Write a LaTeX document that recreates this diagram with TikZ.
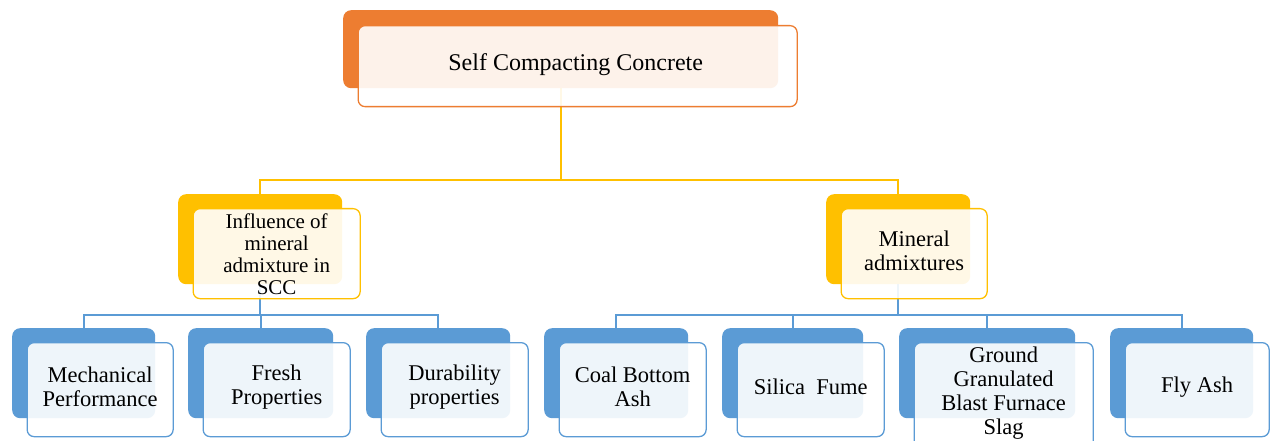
\documentclass[tikz,border=0pt]{standalone}
\usepackage{fontspec}
\setmainfont{Liberation Serif}
\newfontfamily\boxfont{Liberation Serif}
\usetikzlibrary{calc}

\definecolor{cOrange}{HTML}{ED7D31}
\definecolor{cGold}{HTML}{FFC000}
\definecolor{cBlue}{HTML}{5B9BD5}

\tikzset{
  backbox/.style={draw=none, fill=#1, rounded corners=8pt, inner sep=0pt, anchor=north west},
  frontbox/.style={draw=#1, line width=1.3pt, fill=white, fill opacity=0.9,
                   rounded corners=7pt, inner sep=0pt, anchor=north west},
  link/.style={draw=#1, line width=1.6pt},
  lbl/.style={font=\boxfont\fontsize{22.5}{24}\selectfont, align=center, text=black, inner sep=0pt},
  biglbl/.style={font=\boxfont\fontsize{24}{26}\selectfont, align=center, text=black, inner sep=0pt},
  tightlbl/.style={font=\boxfont\fontsize{21}{22}\selectfont, align=center, text=black, inner sep=0pt,
                   yshift=-3.5pt},
}

% two stacked rounded boxes: a solid one behind, a pale one in front, text on top
% #1 name, #2 colour, #3 text style, #4 x, #5 y, #6 w, #7 front w, #8 front h, #9 text
\newcommand\stackbox[9]{%
  \node[backbox=#2, minimum width=#6pt, minimum height=90pt] (#1-b) at (#4,#5) {};
  \node[frontbox=#2, minimum width=#7pt, minimum height=#8pt]
       (#1-f) at ($(#1-b.north west)+(14.5,14)$) {};
  \node[#3] (#1-t) at ($(#1-f.center)+(0,-2.5)$) {#9};
}

\begin{document}
\begin{tikzpicture}[x=1pt, y=-1pt]
  \useasboundingbox (0,0) rectangle (1270,441);
  \fill[white] (0,0) rectangle (1270,441);

  % levels of the tree
  \coordinate (bar1) at (0,180);
  \coordinate (bar2) at (0,315);

  % anchors of the back boxes, placed first so the connectors sit underneath
  \begin{scope}[every node/.style={inner sep=0pt, anchor=north west}]
    \node[minimum width=435pt, minimum height=78pt] (scc-a) at (343,10) {};
    \node[minimum width=164pt, minimum height=90pt] (inf-a) at (178,194) {};
    \node[minimum width=144pt, minimum height=90pt] (min-a) at (826,194) {};
    \node[minimum width=143pt, minimum height=90pt] (mech-a) at (12,328) {};
    \node[minimum width=145pt, minimum height=90pt] (fresh-a) at (188,328) {};
    \node[minimum width=144pt, minimum height=90pt] (dura-a) at (366,328) {};
    \node[minimum width=144pt, minimum height=90pt] (coal-a) at (544,328) {};
    \node[minimum width=141pt, minimum height=90pt] (sil-a) at (722,328) {};
    \node[minimum width=176pt, minimum height=90pt] (ggbs-a) at (899,328) {};
    \node[minimum width=143pt, minimum height=90pt] (fly-a) at (1110,328) {};
  \end{scope}

  % connectors
  \draw[link=cGold] (scc-a.south) -- (scc-a.south |- bar1) -| (inf-a.north);
  \draw[link=cGold] (scc-a.south) -- (scc-a.south |- bar1) -| (min-a.north);

  \foreach \c in {mech,fresh,dura}
    \draw[link=cBlue] (inf-a.south) -- (inf-a.south |- bar2) -| (\c-a.north);
  \foreach \c in {coal,sil,ggbs,fly}
    \draw[link=cBlue] (min-a.south) -- (min-a.south |- bar2) -| (\c-a.north);

  % top box
  \node[backbox=cOrange, minimum width=435pt, minimum height=78pt] (scc-b) at (343,10) {};
  \node[frontbox=cOrange, minimum width=439pt, minimum height=81pt] (scc-f) at (357.5,25) {};
  \node[biglbl] (scc-t) at ($(scc-f.center)+(-2,-2)$) {Self Compacting Concrete};

  % second level
  \stackbox{inf}{cGold}{tightlbl}{178}{194}{164}{167}{90}%
    {Influence of\\ mineral\\ admixture in\\ SCC}
  \stackbox{min}{cGold}{lbl}{826}{194}{144}{146}{90}{Mineral\\ admixtures}

  % third level
  \stackbox{mech}{cBlue}{lbl}{12}{328}{143}{146}{94}{Mechanical\\ Performance}
  \stackbox{fresh}{cBlue}{lbl}{188}{328}{145}{147}{94}{Fresh\\ Properties}
  \stackbox{dura}{cBlue}{lbl}{366}{328}{144}{147}{94}{Durability\\ properties}
  \stackbox{coal}{cBlue}{lbl}{544}{328}{144}{147}{94}{Coal Bottom\\ Ash}
  \stackbox{sil}{cBlue}{lbl}{722}{328}{141}{147}{94}{Silica\ \ Fume}
  \stackbox{ggbs}{cBlue}{lbl}{899}{328}{176}{179}{106}{Ground\\ Granulated\\ Blast Furnace\\ Slag}
  \stackbox{fly}{cBlue}{lbl}{1110}{328}{143}{144}{94}{Fly Ash}
\end{tikzpicture}
\end{document}
